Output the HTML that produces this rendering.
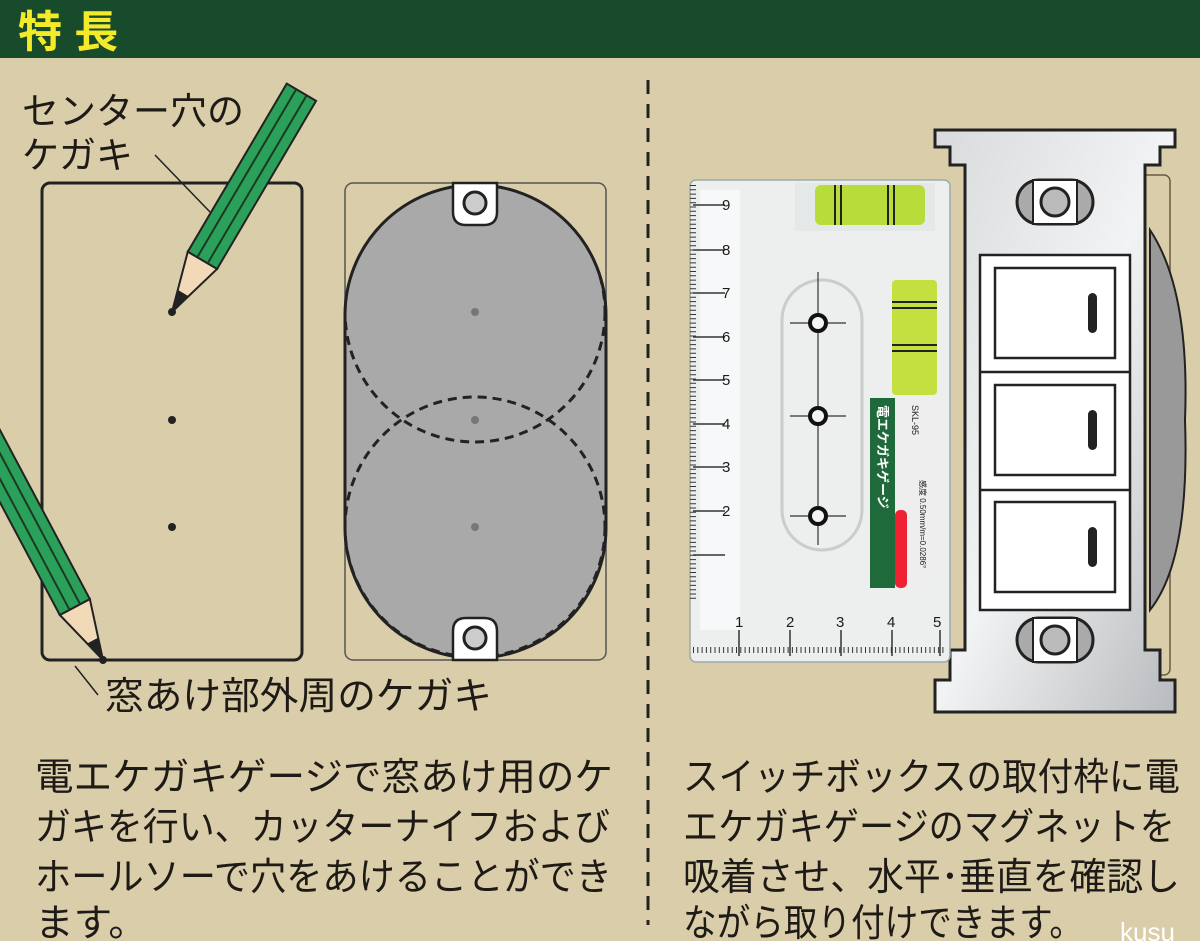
<!DOCTYPE html>
<html><head><meta charset="utf-8"><style>
html,body{margin:0;padding:0;background:#dacdaa;}
svg{display:block}
text{font-family:"Liberation Sans","Noto Sans CJK JP",sans-serif;fill:#1e1a16}
</style></head><body>
<svg width="1200" height="941" viewBox="0 0 1200 941" xmlns="http://www.w3.org/2000/svg">
<defs>
<g id="pencil">
  <polygon points="0,0 60,-17 60,17" fill="#f2d9b8" stroke="#222" stroke-width="2"/>
  <polygon points="0,0 22,-6 22,6" fill="#222"/>
  <rect x="60" y="-17" width="195" height="34" fill="#2aa05a" stroke="#222" stroke-width="2"/>
  <line x1="60" y1="-6" x2="255" y2="-6" stroke="#1a3a22" stroke-width="2"/>
  <line x1="60" y1="6" x2="255" y2="6" stroke="#1a3a22" stroke-width="2"/>
  <circle cx="0" cy="0" r="4" fill="#222"/>
</g>
<linearGradient id="metal" x1="0" y1="0" x2="1" y2="1">
  <stop offset="0" stop-color="#d8dadc"/><stop offset="0.5" stop-color="#f2f3f4"/><stop offset="1" stop-color="#b8bbbe"/>
</linearGradient>
<clipPath id="stad"><rect x="345" y="185" width="261" height="473" rx="130"/></clipPath>
</defs>
<rect width="1200" height="941" fill="#dacdaa"/>
<rect width="1200" height="58" fill="#184a2c"/>
<text x="18" y="47" font-size="44" font-weight="bold" style="fill:#f4ea2a">特 長</text>

<rect x="42" y="183" width="260" height="477" rx="8" fill="none" stroke="#222" stroke-width="3"/>
<circle cx="172" cy="420" r="4" fill="#222"/>
<circle cx="172" cy="527" r="4" fill="#222"/>
<text x="22" y="124" font-size="37">センター穴の</text>
<text x="22" y="168" font-size="37">ケガキ</text>
<line x1="155" y1="155" x2="210" y2="212" stroke="#222" stroke-width="1.5"/>
<use href="#pencil" transform="translate(172,312) rotate(-59.5)"/>
<use href="#pencil" transform="translate(103,660) rotate(-118)"/>
<line x1="75" y1="666" x2="98" y2="695" stroke="#222" stroke-width="1.5"/>
<text x="105" y="709" font-size="38" textLength="387" lengthAdjust="spacingAndGlyphs">窓あけ部外周のケガキ</text>

<rect x="345" y="183" width="261" height="477" rx="8" fill="none" stroke="#555" stroke-width="1.5"/>
<rect x="345" y="185" width="261" height="473" rx="130" fill="#a9a9a9"/>
<g clip-path="url(#stad)">
<circle cx="475" cy="312" r="130" fill="none" stroke="#222" stroke-width="3" stroke-dasharray="9,6"/>
<circle cx="475" cy="527" r="130" fill="none" stroke="#222" stroke-width="3" stroke-dasharray="9,6"/>
</g>
<rect x="345" y="185" width="261" height="473" rx="130" fill="none" stroke="#222" stroke-width="3"/>
<circle cx="475" cy="312" r="4" fill="#777"/>
<circle cx="475" cy="420" r="4" fill="#777"/>
<circle cx="475" cy="527" r="4" fill="#777"/>
<path d="M453,183 L453,212 Q453,225 466,225 L484,225 Q497,225 497,212 L497,183 Z" fill="#fff" stroke="#222" stroke-width="2.5"/>
<circle cx="475" cy="203" r="11" fill="#ccc" stroke="#222" stroke-width="3"/>
<path d="M453,660 L453,631 Q453,618 466,618 L484,618 Q497,618 497,631 L497,660 Z" fill="#fff" stroke="#222" stroke-width="2.5"/>
<circle cx="475" cy="638" r="11" fill="#ccc" stroke="#222" stroke-width="3"/>

<line x1="648" y1="80" x2="648" y2="925" stroke="#222" stroke-width="3" stroke-dasharray="14,10"/>

<rect x="1100" y="175" width="70" height="500" rx="6" fill="none" stroke="#6a5a40" stroke-width="1.5"/>
<path d="M1150,230 Q1190,290 1185,420 Q1190,560 1150,610 Z" fill="#999" stroke="#222" stroke-width="2"/>
<path d="M935,130 L1175,130 L1175,147 L1160,147 L1160,165 L1145,165 L1145,650 L1160,650 L1160,680 L1175,680 L1175,712 L935,712 L935,680 L950,680 L950,650 L965,650 L965,165 L950,165 L950,147 L935,147 Z" fill="url(#metal)" stroke="#222" stroke-width="3"/>
<rect x="1017" y="180" width="76" height="44" rx="22" fill="#aaa" stroke="#222" stroke-width="3"/>
<rect x="1033" y="180" width="44" height="44" fill="#fff" stroke="#222" stroke-width="2"/>
<circle cx="1055" cy="202" r="14" fill="#bbb" stroke="#222" stroke-width="3"/>
<rect x="1017" y="618" width="76" height="44" rx="22" fill="#aaa" stroke="#222" stroke-width="3"/>
<rect x="1033" y="618" width="44" height="44" fill="#fff" stroke="#222" stroke-width="2"/>
<circle cx="1055" cy="640" r="14" fill="#bbb" stroke="#222" stroke-width="3"/>
<rect x="980" y="255" width="150" height="355" fill="#fff" stroke="#222" stroke-width="2.5"/>
<line x1="980" y1="372" x2="1130" y2="372" stroke="#222" stroke-width="2.5"/>
<line x1="980" y1="490" x2="1130" y2="490" stroke="#222" stroke-width="2.5"/>
<rect x="995" y="268" width="120" height="90" fill="#fff" stroke="#222" stroke-width="2.5"/>
<rect x="995" y="385" width="120" height="90" fill="#fff" stroke="#222" stroke-width="2.5"/>
<rect x="995" y="502" width="120" height="90" fill="#fff" stroke="#222" stroke-width="2.5"/>
<rect x="1088" y="293" width="9" height="40" rx="4.5" fill="#222"/>
<rect x="1088" y="410" width="9" height="40" rx="4.5" fill="#222"/>
<rect x="1088" y="527" width="9" height="40" rx="4.5" fill="#222"/>

<rect x="690" y="180" width="260" height="482" rx="6" fill="#eef0f1" stroke="#9aa" stroke-width="1.5" opacity="0.96"/>
<rect x="700" y="190" width="40" height="440" fill="#f7f8f9"/>
<g stroke="#333" stroke-width="1.5">
  <line x1="693" y1="205" x2="725" y2="205"/><line x1="693" y1="250" x2="725" y2="250"/><line x1="693" y1="293" x2="725" y2="293"/>
  <line x1="693" y1="337" x2="725" y2="337"/><line x1="693" y1="380" x2="725" y2="380"/><line x1="693" y1="424" x2="725" y2="424"/>
  <line x1="693" y1="467" x2="725" y2="467"/><line x1="693" y1="511" x2="725" y2="511"/><line x1="693" y1="555" x2="725" y2="555"/>
  <line x1="739" y1="630" x2="739" y2="656"/><line x1="790" y1="630" x2="790" y2="656"/><line x1="841" y1="630" x2="841" y2="656"/>
  <line x1="892" y1="630" x2="892" y2="656"/><line x1="940" y1="630" x2="940" y2="656"/>
</g>
<path d="M693,185 L693,600 M693,650 L945,650" stroke="#333" stroke-width="6" stroke-dasharray="1,3.3" fill="none"/>
<g font-size="15">
<text x="722" y="210">9</text><text x="722" y="255">8</text><text x="722" y="298">7</text><text x="722" y="342">6</text>
<text x="722" y="385">5</text><text x="722" y="429">4</text><text x="722" y="472">3</text><text x="722" y="516">2</text>
<text x="735" y="627">1</text><text x="786" y="627">2</text><text x="836" y="627">3</text><text x="887" y="627">4</text><text x="933" y="627">5</text>
</g>
<rect x="795" y="183" width="140" height="48" fill="#e4e8e8"/>
<rect x="815" y="185" width="110" height="40" rx="6" fill="#b8dc3a"/>
<line x1="835" y1="185" x2="835" y2="225" stroke="#222" stroke-width="2"/><line x1="841" y1="185" x2="841" y2="225" stroke="#222" stroke-width="2"/>
<line x1="888" y1="185" x2="888" y2="225" stroke="#222" stroke-width="2"/><line x1="894" y1="185" x2="894" y2="225" stroke="#222" stroke-width="2"/>
<rect x="892" y="280" width="45" height="115" rx="4" fill="#c4e040"/>
<line x1="892" y1="302" x2="937" y2="302" stroke="#222" stroke-width="2"/><line x1="892" y1="308" x2="937" y2="308" stroke="#222" stroke-width="2"/>
<line x1="892" y1="345" x2="937" y2="345" stroke="#222" stroke-width="2"/><line x1="892" y1="351" x2="937" y2="351" stroke="#222" stroke-width="2"/>
<rect x="782" y="280" width="80" height="270" rx="40" fill="none" stroke="#c8cdd0" stroke-width="3"/>
<line x1="818" y1="272" x2="818" y2="545" stroke="#333" stroke-width="1.2"/>
<g stroke="#333" stroke-width="1.2"><line x1="790" y1="323" x2="846" y2="323"/><line x1="790" y1="416" x2="846" y2="416"/><line x1="790" y1="516" x2="846" y2="516"/></g>
<g fill="#f4f4f4" stroke="#111" stroke-width="4"><circle cx="818" cy="323" r="8"/><circle cx="818" cy="416" r="8"/><circle cx="818" cy="516" r="8"/></g>
<rect x="870" y="398" width="65" height="190" fill="#eee"/>
<rect x="870" y="398" width="25" height="190" fill="#1f6a3a"/>
<rect x="895" y="510" width="12" height="78" rx="5" fill="#e23"/>
<text transform="translate(878,405) rotate(90)" font-size="13" font-weight="bold" style="fill:#fff">電エケガキゲージ</text>
<text transform="translate(912,405) rotate(90)" font-size="9">SKL-95</text>
<text transform="translate(920,480) rotate(90)" font-size="8">感度 0.50mm/m=0.0286°</text>

<g font-size="38">
<text x="35" y="790" textLength="578" lengthAdjust="spacingAndGlyphs">電エケガキゲージで窓あけ用のケ</text>
<text x="35" y="840" textLength="575" lengthAdjust="spacingAndGlyphs">ガキを行い、カッターナイフおよび</text>
<text x="35" y="890" textLength="577" lengthAdjust="spacingAndGlyphs">ホールソーで穴をあけることができ</text>
<text x="35" y="936" textLength="112" lengthAdjust="spacingAndGlyphs">ます。</text>
<text x="683" y="790" textLength="497" lengthAdjust="spacingAndGlyphs">スイッチボックスの取付枠に電</text>
<text x="683" y="840" textLength="492" lengthAdjust="spacingAndGlyphs">エケガキゲージのマグネットを</text>
<text x="683" y="890" textLength="497" lengthAdjust="spacingAndGlyphs">吸着させ、水平･垂直を確認し</text>
<text x="683" y="936" textLength="400" lengthAdjust="spacingAndGlyphs">ながら取り付けできます。</text>
</g>
<text x="1120" y="941" font-size="26" style="fill:#fff">kusu</text>
</svg>
</body></html>
